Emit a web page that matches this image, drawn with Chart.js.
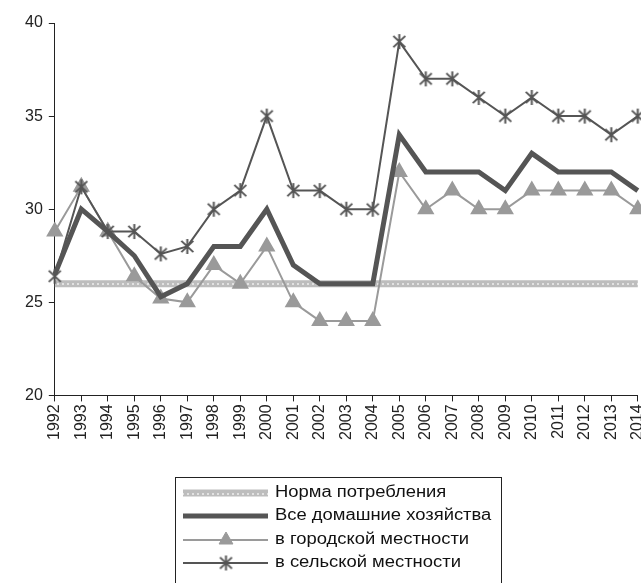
<!DOCTYPE html>
<html lang="ru">
<head>
    <meta charset="UTF-8">
    <title>Потребление</title>
    <script src="https://cdn.jsdelivr.net/npm/chart.js"></script>
    <style>
        body {
            margin: 0;
            background: #fff;
            overflow: hidden;
        }
        .wrap {
            width: 641px;
            height: 583px;
            overflow: hidden;
        }
        .inner {
            width: 660px;
            height: 583px;
        }
    </style>
</head>
<body>

<div class="wrap">
    <div class="inner">
        <canvas id="chart"></canvas>
    </div>
</div>

<script>
    // Data
    const years = ['1992', '1993', '1994', '1995', '1996', '1997', '1998', '1999', '2000', '2001', '2002', '2003',
        '2004', '2005', '2006', '2007', '2008', '2009', '2010', '2011', '2012', '2013', '2014'];
    const norm = [26, 26, 26, 26, 26, 26, 26, 26, 26, 26, 26, 26, 26, 26, 26, 26, 26, 26, 26, 26, 26, 26, 26];
    const allHouseholds = [26.5, 30, 28.8, 27.5, 25.3, 26, 28, 28, 30, 27, 26, 26, 26, 34, 32, 32, 32, 31, 33, 32, 32, 32, 31];
    const urban = [28.8, 31.2, 28.8, 26.4, 25.2, 25, 27, 26, 28, 25, 24, 24, 24, 32, 30, 31, 30, 30, 31, 31, 31, 31, 30];
    const rural = [26.4, 31.2, 28.8, 28.8, 27.6, 28, 30, 31, 35, 31, 31, 30, 30, 39, 37, 37, 36, 35, 36, 35, 35, 34, 35];
    const yTicks = [20, 25, 30, 35, 40];

    const FONT = 'Arial, "Liberation Sans", sans-serif';

    // gray band with light dots for the norm line
    function makeNormPattern() {
        const c = document.createElement('canvas');
        c.width = 5;
        c.height = 7;
        const g = c.getContext('2d');
        g.fillStyle = '#bdbdbd';
        g.fillRect(0, 0, 5, 7);
        g.fillStyle = '#e2e2e2';
        g.fillRect(2, 3, 2, 2);
        return g.createPattern(c, 'repeat');
    }

    // six-spoke asterisk marker
    function makeStar(size) {
        const c = document.createElement('canvas');
        c.width = size;
        c.height = size;
        const g = c.getContext('2d');
        g.strokeStyle = '#555';
        g.lineWidth = 2;
        const m = size / 2, r = size / 2 - 1;
        g.beginPath();
        g.moveTo(m, m - r); g.lineTo(m, m + r);
        g.moveTo(m - r * 0.8, m - r * 0.75); g.lineTo(m + r * 0.8, m + r * 0.75);
        g.moveTo(m + r * 0.8, m - r * 0.75); g.lineTo(m - r * 0.8, m + r * 0.75);
        g.stroke();
        return c;
    }

    const star = makeStar(17);

    // legend in a framed box under the chart
    const boxLegend = {
        id: 'boxLegend',
        afterDraw(chart) {
            const ctx = chart.ctx;
            ctx.save();
            ctx.strokeStyle = '#222';
            ctx.lineWidth = 1;
            ctx.strokeRect(175.5, 477.5, 326, 120);
            ctx.font = '16px ' + FONT;
            ctx.textBaseline = 'middle';
            ctx.fillStyle = '#111';
            const rows = [493, 516, 540, 563];
            chart.data.datasets.forEach(function (ds, i) {
                const y = rows[i];
                ctx.save();
                ctx.strokeStyle = ds.borderColor;
                ctx.lineWidth = ds.borderWidth;
                ctx.beginPath();
                ctx.moveTo(183, y);
                ctx.lineTo(268, y);
                ctx.stroke();
                ctx.restore();
                if (ds.pointRadius > 0) {
                    ctx.save();
                    ctx.fillStyle = ds.pointBackgroundColor;
                    ctx.strokeStyle = ds.pointBorderColor;
                    ctx.lineWidth = 1;
                    Chart.helpers.drawPoint(ctx, {
                        pointStyle: ds.pointStyle,
                        radius: ds.pointRadius,
                        rotation: 0,
                        borderWidth: 1
                    }, 226, y);
                    ctx.restore();
                }
                // text in the picture is a bit wide, stretch it horizontally
                ctx.save();
                ctx.translate(275, y);
                ctx.scale(1.15, 1);
                ctx.fillText(ds.label, 0, 0);
                ctx.restore();
            });
            ctx.restore();
        }
    };

    const ctx = document.getElementById('chart').getContext('2d');
    new Chart(ctx, {
        type: 'line',
        data: {
            labels: years,
            datasets: [
                {
                    label: 'Норма потребления',
                    data: norm,
                    borderColor: makeNormPattern(),
                    borderWidth: 7,
                    pointRadius: 0,
                    order: 4
                },
                {
                    label: 'Все домашние хозяйства',
                    data: allHouseholds,
                    borderColor: '#555555',
                    borderWidth: 5,
                    pointRadius: 0,
                    order: 2
                },
                {
                    label: 'в городской местности',
                    data: urban,
                    borderColor: '#9a9a9a',
                    borderWidth: 2,
                    pointStyle: 'triangle',
                    pointRadius: 8,
                    pointBackgroundColor: '#9a9a9a',
                    pointBorderColor: '#9a9a9a',
                    order: 3
                },
                {
                    label: 'в сельской местности',
                    data: rural,
                    borderColor: '#555555',
                    borderWidth: 2,
                    pointStyle: star,
                    pointRadius: 8,
                    pointBackgroundColor: '#555555',
                    pointBorderColor: '#555555',
                    order: 1
                }
            ]
        },
        options: {
            responsive: true,
            maintainAspectRatio: false,
            animation: false,
            layout: {
                padding: { top: 23, left: 19, right: 0, bottom: 140 }
            },
            elements: {
                line: { tension: 0 }
            },
            scales: {
                x: {
                    offset: false,
                    grid: {
                        display: true,
                        drawOnChartArea: false,
                        drawTicks: true,
                        tickLength: 6,
                        color: '#222'
                    },
                    border: { color: '#222', width: 1 },
                    ticks: {
                        autoSkip: false,
                        minRotation: 90,
                        maxRotation: 90,
                        padding: 3,
                        color: '#222',
                        font: { size: 16, family: FONT }
                    }
                },
                y: {
                    min: 20,
                    max: 40,
                    afterBuildTicks: function (axis) {
                        axis.ticks = yTicks.map(function (v) { return { value: v }; });
                    },
                    grid: {
                        display: true,
                        drawOnChartArea: false,
                        drawTicks: true,
                        tickLength: 6,
                        color: '#222'
                    },
                    border: { color: '#222', width: 1 },
                    ticks: {
                        padding: 6,
                        color: '#222',
                        font: { size: 16, family: FONT }
                    }
                }
            },
            plugins: {
                legend: { display: false },
                tooltip: { enabled: false }
            }
        },
        plugins: [boxLegend]
    });
</script>

</body>
</html>
